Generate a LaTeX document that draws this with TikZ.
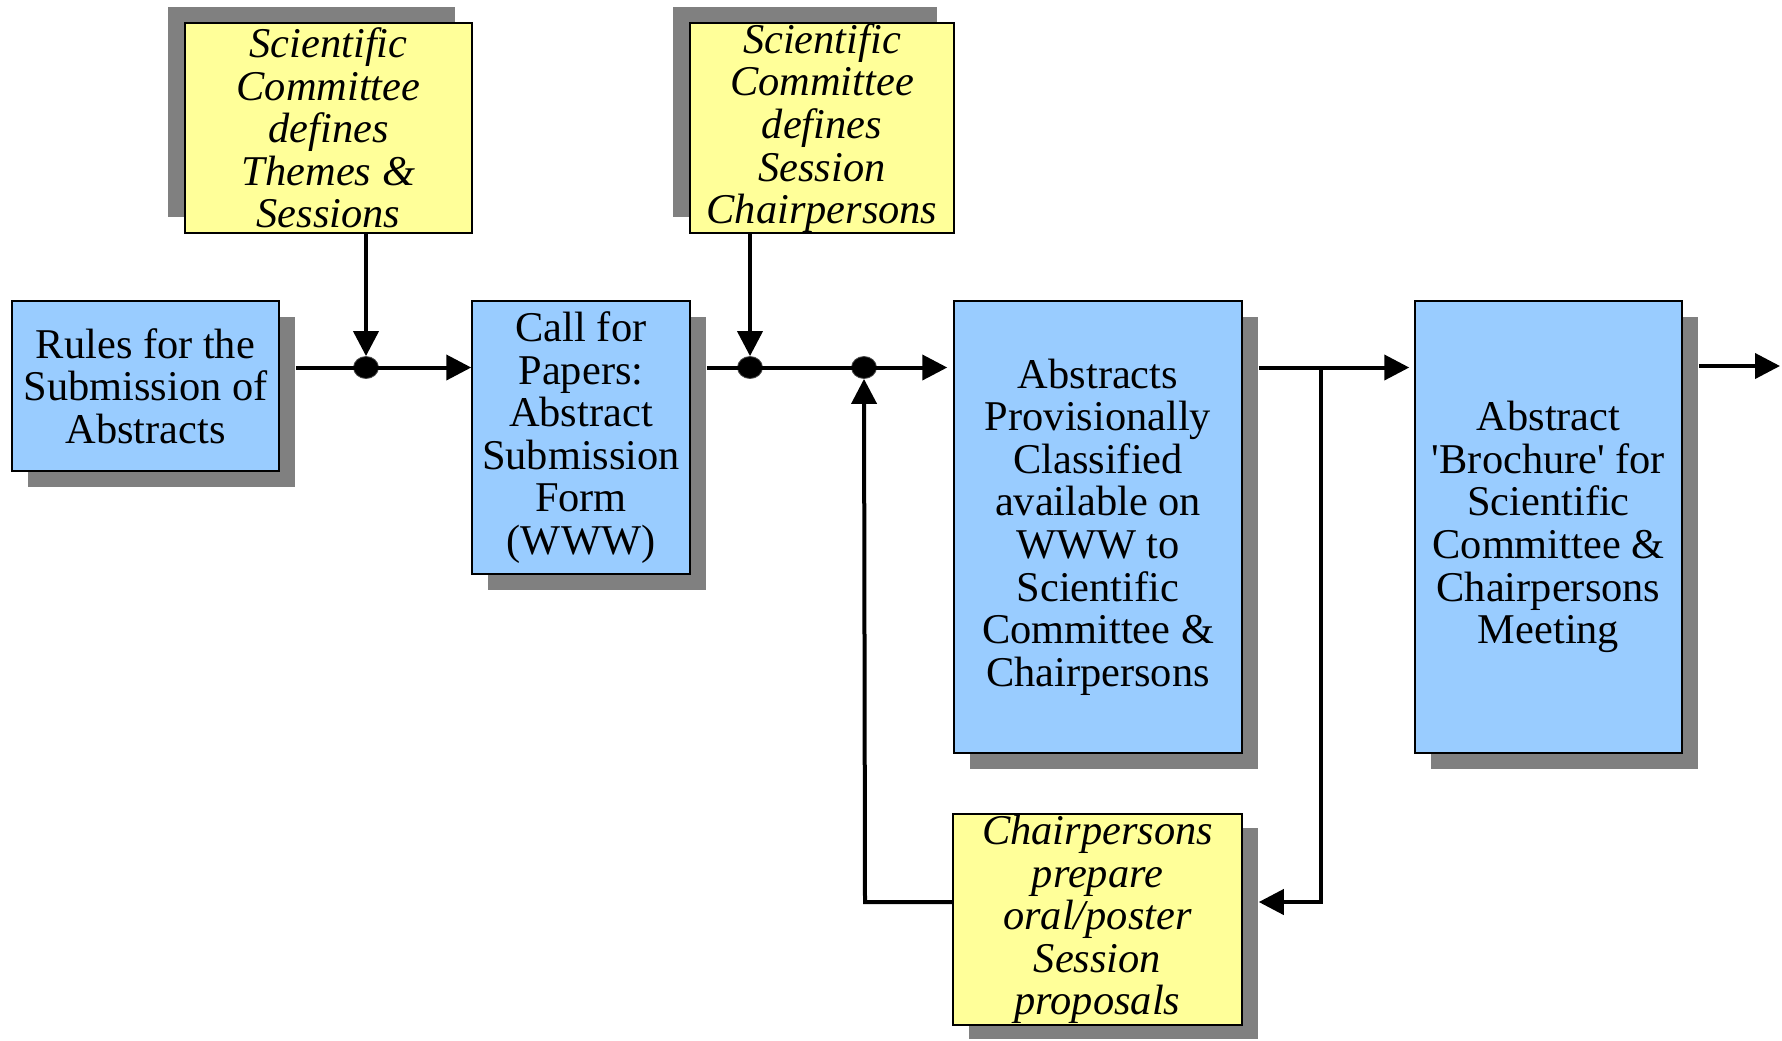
\documentclass[tikz,border=0pt]{standalone}
\usepackage{fontspec}
\setmainfont{Liberation Serif}
\usetikzlibrary{arrows.meta,shapes.geometric,shadows}
\definecolor{boxblue}{HTML}{99CCFF}
\definecolor{boxyellow}{HTML}{FFFF99}
\definecolor{shadowgray}{HTML}{808080}
\begin{document}
\begin{tikzpicture}[x=0.5pt,y=-0.5pt,
  every node/.style={font=\fontsize{21.2pt}{21.3pt}\selectfont, align=center, inner sep=0pt},
  bluebox/.style={rectangle, draw=black, line width=0.75pt, fill=boxblue,
    drop shadow={shadow xshift=8pt, shadow yshift=-8pt, opacity=1, fill=shadowgray}},
  yellowup/.style={rectangle, draw=black, line width=0.75pt, fill=boxyellow, font=\fontsize{21.2pt}{21.3pt}\selectfont\itshape,
    drop shadow={shadow xshift=-8.5pt, shadow yshift=8pt, opacity=1, fill=shadowgray}},
  yellowdown/.style={rectangle, draw=black, line width=0.75pt, fill=boxyellow, font=\fontsize{21.2pt}{21.3pt}\selectfont\itshape,
    drop shadow={shadow xshift=8pt, shadow yshift=-7pt, opacity=1, fill=shadowgray}},
  jdot/.style={ellipse, fill=black, draw=black!70, line width=0.4pt, minimum width=12.5pt, minimum height=11pt, inner sep=0pt},
  conn/.style={line width=2pt, -{Triangle[length=12.5pt,width=12.5pt]}},
  connplain/.style={line width=2pt}
]
\useasboundingbox (0,0) rectangle (1782,1040);

\node[bluebox, minimum width=133.5pt, minimum height=85pt] (rules) at (145.5,386)
  {Rules for the\\Submission of\\Abstracts};
\node[bluebox, minimum width=109pt, minimum height=136.5pt] (call) at (581,437.5)
  {Call for\\Papers:\\Abstract\\Submission\\Form\\(WWW)};
\node[yellowup, minimum width=143.5pt, minimum height=105pt] (y1) at (328.5,128)
  {Scientific\\Committee\\defines\\Themes \&\\Sessions};
\node[yellowup, minimum width=132pt, minimum height=105pt] (y2) at (822,128)
  {Scientific\\Committee\\defines\\Session\\Chairpersons};
\node[bluebox, minimum width=144pt, minimum height=226pt] (abs) at (1098,527)
  {Abstracts\\Provisionally\\Classified\\available on\\WWW to\\Scientific\\Committee \&\\Chairpersons};
\node[bluebox, minimum width=133.5pt, minimum height=226pt] (bro) at (1548.5,527)
  {Abstract\\\textquotesingle Brochure\textquotesingle{} for\\Scientific\\Committee \&\\Chairpersons\\Meeting};
\node[yellowdown, minimum width=144.5pt, minimum height=105.5pt] (chair) at (1097.5,919.5)
  {Chairpersons\\prepare\\oral/poster\\Session\\proposals};

\node[jdot] (dot1) at (366,367.5) {};
\node[jdot] (dot2) at (750,367.5) {};
\node[jdot] (dot3) at (864,367.5) {};
\coordinate (br) at (1321,367.5);
\coordinate (fbL) at (865,902);
\coordinate (fbR) at (1321,902);
\coordinate (out) at (1780,366);

\draw[conn] ([xshift=8pt]rules.east |- dot1) -- (call.west |- dot1);
\draw[conn] (y1.south -| dot1) -- (dot1.north);
\draw[conn] ([xshift=8pt]call.east |- dot2) -- ([xshift=-3pt]abs.west |- dot2);
\draw[conn] (y2.south -| dot2) -- (dot2.north);
\draw[conn] (chair.west |- fbL) -- (fbL) -- (dot3.south);
\draw[conn] ([xshift=8pt]abs.east |- br) -- ([xshift=-2.5pt]bro.west |- br);
\draw[conn] (br) -- (fbR) -- ([xshift=8pt]chair.east |- fbR);
\draw[conn] ([xshift=8pt]bro.east |- out) -- (out);
\end{tikzpicture}
\end{document}
